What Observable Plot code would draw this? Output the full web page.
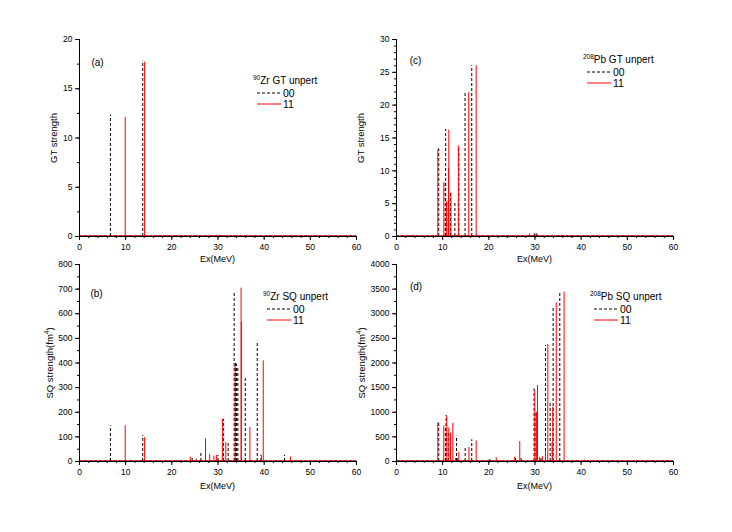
<!DOCTYPE html>
<html>
<head>
<meta charset="utf-8">
<script src="https://cdn.jsdelivr.net/npm/d3@7"></script>
<script src="https://cdn.jsdelivr.net/npm/@observablehq/plot@0.6"></script>
<style>
  body { margin: 0; background: #fff; font-family: "Liberation Sans", Arial, sans-serif; }
  #fig { position: relative; width: 732px; height: 532px; overflow: hidden; background: #fff; }
  .panel { position: absolute; }
  .lbl { position: absolute; white-space: nowrap; color: #000; line-height: 1; }
  .ylab { transform: translate(-50%, -50%) rotate(-90deg); font-size: 9.5px; }
  .xlab { transform: translate(-50%, -50%); font-size: 9px; }
  .tag { transform: translate(-50%, -50%); font-size: 10px; }
  .sup { font-size: 6.5px; position: relative; top: -0.55em; }
  .legtitle { font-size: 10px; transform: translateY(-50%); }
  .legrow { font-size: 10.5px; transform: translateY(-50%); }
  svg.legline { position: absolute; overflow: visible; }
</style>
</head>
<body>
<div id="fig"></div>
<script>
// ---------- data ----------
// x axis (all panels)
const xMajor = [0, 10, 20, 30, 40, 50, 60];
const xMinor = d3.range(0, 61, 2);

// (a) 90Zr GT unpert
const zrGT_E00 = [6.7, 13.7, 30.3];
const zrGT_S00 = [12.3, 17.8, 0.08];
const zrGT_E11 = [9.9, 14.1, 29.8, 31.0];
const zrGT_S11 = [12.1, 17.7, 0.12, 0.08];
const zrGT_yMajor = [0, 5, 10, 15, 20];
const zrGT_yMinor = d3.range(0, 20.1, 2.5);

// (b) 90Zr SQ unpert
const zrSQ_E00 = [6.7, 13.7, 24.4, 26.3, 27.3, 30.0, 31.2, 32.2, 33.5, 33.8, 34.0, 34.3, 35.9, 38.5, 39.3, 44.4];
const zrSQ_S00 = [145, 105, 18, 33, 90, 25, 170, 73, 683, 398, 395, 385, 341, 486, 25, 25];
const zrSQ_E11 = [9.9, 14.1, 24.0, 25.3, 27.3, 28.2, 29.1, 29.65, 30.95, 31.7, 33.7, 35.0, 35.06, 36.9, 39.4, 39.8, 45.7];
const zrSQ_S11 = [145, 97, 18, 10, 91, 28, 22, 25, 172, 77, 390, 704, 565, 138, 22, 409, 18];
const zrSQ_yMajor = [0, 100, 200, 300, 400, 500, 600, 700, 800];
const zrSQ_yMinor = d3.range(0, 801, 50);

// (c) 208Pb GT unpert
const pbGT_E00 = [9.15, 10.55, 10.65, 11.2, 11.7, 12.65, 13.5, 14.85, 16.3, 29.85, 30.4];
const pbGT_S00 = [13.35, 8.4, 16.3, 5.3, 6.6, 5.3, 13.7, 22.0, 26.0, 0.4, 0.4];
const pbGT_E11 = [8.95, 10.25, 10.85, 11.25, 11.33, 11.8, 13.4, 15.65, 17.25, 28.8, 30.2];
const pbGT_S11 = [13.2, 8.2, 5.3, 10.3, 16.2, 6.6, 13.8, 21.9, 26.0, 0.4, 0.4];
const pbGT_yMajor = [0, 5, 10, 15, 20, 25, 30];
const pbGT_yMinor = d3.range(0, 31, 1);

// (d) 208Pb SQ unpert
const pbSQ_E00 = [9.15, 10.6, 10.75, 11.2, 11.7, 13.0, 13.3, 14.87, 16.3, 20.2, 25.8, 27.0, 29.8, 30.2, 31.3, 32.27, 33.28, 33.93, 35.37];
const pbSQ_S00 = [790, 717, 934, 570, 573, 511, 80, 295, 440, 40, 60, 60, 1475, 1000, 60, 2355, 1184, 3134, 3438];
const pbSQ_E11 = [8.95, 10.25, 10.9, 11.33, 11.7, 12.2, 12.8, 13.5, 15.7, 17.25, 21.6, 25.6, 26.7, 29.96, 30.3, 30.54, 31.0, 31.6, 32.27, 32.77, 33.7, 33.85, 34.6, 36.3, 40.8];
const pbSQ_S11 = [790, 717, 920, 682, 573, 771, 60, 182, 284, 420, 75, 90, 406, 1440, 1000, 1543, 80, 100, 217, 2376, 380, 1103, 3222, 3438, 30];
const pbSQ_yMajor = [0, 500, 1000, 1500, 2000, 2500, 3000, 3500, 4000];
const pbSQ_yMinor = d3.range(0, 4001, 250);

const seriesNames = ["00", "11"];
const seriesColors = ["#000000", "#ff0000"];

// ---------- drawing ----------
const fig = document.getElementById("fig");
const zip = (E, S) => E.map((e, i) => ({E: e, S: S[i]}));
const plain = d => String(d);

function panel({left, top, width, height, mL, mT, mR, mB, yMax, yMajor, yMinor, E00, S00, E11, S11}) {
  const chart = Plot.plot({
    width, height,
    marginLeft: mL, marginTop: mT, marginRight: mR, marginBottom: mB,
    style: {fontFamily: "Liberation Sans, Arial, sans-serif", fontSize: "8.5px", background: "transparent", overflow: "visible", color: "#000"},
    x: {domain: [0, 60]},
    y: {domain: [0, yMax]},
    marks: [
      Plot.axisX(xMajor, {tickSize: 4, tickPadding: 3, tickFormat: plain, label: null, stroke: "#000"}),
      Plot.axisX(xMinor, {tickSize: 2, tickFormat: () => "", label: null, stroke: "#000"}),
      Plot.axisY(yMajor, {tickSize: 4, tickPadding: 3, tickFormat: plain, label: null, stroke: "#000"}),
      Plot.axisY(yMinor, {tickSize: 2, tickFormat: () => "", label: null, stroke: "#000"}),
      Plot.ruleY([0], {stroke: seriesColors[1], strokeWidth: 1.2, dy: -0.6}),
      Plot.ruleY([0], {stroke: "#333", strokeWidth: 1.4, strokeDasharray: "3,2", dy: -0.4}),
      Plot.ruleX(zip(E00, S00), {x: "E", y1: 0, y2: "S", stroke: seriesColors[0], strokeWidth: 1, strokeDasharray: "3,2"}),
      Plot.ruleX(zip(E11, S11), {x: "E", y1: 0, y2: "S", stroke: seriesColors[1], strokeWidth: 1}),
      Plot.ruleX([0], {stroke: "#000", strokeWidth: 1}),
      Plot.ruleY([0], {stroke: "#000", strokeWidth: 1})
    ]
  });
  chart.classList.add("panel");
  chart.style.left = left + "px";
  chart.style.top = top + "px";
  fig.appendChild(chart);
}

function label(cls, html, x, y) {
  const d = document.createElement("div");
  d.className = "lbl " + cls;
  d.innerHTML = html;
  d.style.left = x + "px";
  d.style.top = y + "px";
  fig.appendChild(d);
}

function legend(x, y, mass, title) {
  label("legtitle", `<span class="sup">${mass}</span>${title}`, x, y);
  seriesNames.forEach((name, i) => {
    const yy = y + 11.7 * (i + 1);
    const s = document.createElementNS("http://www.w3.org/2000/svg", "svg");
    s.setAttribute("class", "legline");
    s.setAttribute("width", 26);
    s.setAttribute("height", 4);
    s.style.left = (x + 4) + "px";
    s.style.top = (yy - 2) + "px";
    const l = document.createElementNS("http://www.w3.org/2000/svg", "line");
    l.setAttribute("x1", 0); l.setAttribute("x2", 24);
    l.setAttribute("y1", 2); l.setAttribute("y2", 2);
    l.setAttribute("stroke", seriesColors[i]);
    l.setAttribute("stroke-width", 1);
    if (i === 0) l.setAttribute("stroke-dasharray", "3,2");
    s.appendChild(l);
    fig.appendChild(s);
    label("legrow", name, x + 30, yy);
  });
}

// (a)
panel({left: 20, top: 20, width: 345, height: 235, mL: 59, mT: 19, mR: 9, mB: 19,
  yMax: 20, yMajor: zrGT_yMajor, yMinor: zrGT_yMinor, E00: zrGT_E00, S00: zrGT_S00, E11: zrGT_E11, S11: zrGT_S11});
// (b)
panel({left: 20, top: 255, width: 345, height: 225, mL: 59, mT: 9, mR: 9, mB: 19,
  yMax: 800, yMajor: zrSQ_yMajor, yMinor: zrSQ_yMinor, E00: zrSQ_E00, S00: zrSQ_S00, E11: zrSQ_E11, S11: zrSQ_S11});
// (c)
panel({left: 365, top: 20, width: 317, height: 235, mL: 31, mT: 19, mR: 9, mB: 19,
  yMax: 30, yMajor: pbGT_yMajor, yMinor: pbGT_yMinor, E00: pbGT_E00, S00: pbGT_S00, E11: pbGT_E11, S11: pbGT_S11});
// (d)
panel({left: 365, top: 255, width: 317, height: 225, mL: 31, mT: 9, mR: 9, mB: 19,
  yMax: 4000, yMajor: pbSQ_yMajor, yMinor: pbSQ_yMinor, E00: pbSQ_E00, S00: pbSQ_S00, E11: pbSQ_E11, S11: pbSQ_S11});

// axis titles
label("ylab", "GT strength", 53.5, 137.5);
label("ylab", "SQ strength(fm<span class='sup'>4</span>)", 50, 362.5);
label("ylab", "GT strength", 361, 137.5);
label("ylab", "SQ strength(fm<span class='sup'>4</span>)", 362, 362.5);
label("xlab", "Ex(MeV)", 217.5, 259);
label("xlab", "Ex(MeV)", 217.5, 486);
label("xlab", "Ex(MeV)", 534.5, 259);
label("xlab", "Ex(MeV)", 534.5, 486);

// panel tags
label("tag", "(a)", 97.5, 62.5);
label("tag", "(b)", 96.5, 294);
label("tag", "(c)", 415.5, 61);
label("tag", "(d)", 416, 287);

// legends
legend(253, 81, "90", "Zr GT unpert");
legend(263, 297, "90", "Zr SQ unpert");
legend(583, 60, "208", "Pb GT unpert");
legend(590, 297, "208", "Pb SQ unpert");
</script>
</body>
</html>
